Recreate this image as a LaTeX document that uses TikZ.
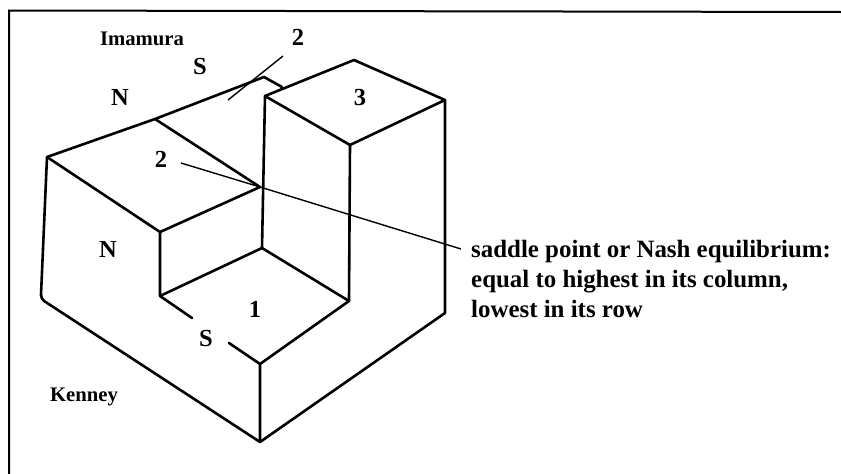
\documentclass[tikz,border=0pt]{standalone}
\usepackage{fontspec}
\setmainfont{Liberation Serif}
\begin{document}
\begin{tikzpicture}[x=1pt,y=-1pt,
  edge/.style={line width=2.6pt,line join=round,line cap=round},
  leader/.style={line width=1.4pt},
  frameline/.style={line width=2pt},
  lab/.style={font=\bfseries\fontsize{24.5}{24.5}\selectfont,inner sep=0pt,anchor=center},
  small/.style={font=\bfseries\fontsize{20.7}{20.7}\selectfont,inner sep=0pt,anchor=center},
  note/.style={font=\bfseries\fontsize{24.9}{30}\selectfont,inner sep=0pt,anchor=base west}]
\useasboundingbox (0,0) rectangle (841,474);
\fill[white] (0,0) rectangle (841,474);
% corners
\coordinate (fa) at (9,474); \coordinate (fb) at (9,10.5); \coordinate (fc) at (841,12);
\coordinate (A) at (47,157); \coordinate (B) at (155,119); \coordinate (C) at (264,77);
\coordinate (Cb) at (282,87);
\coordinate (P) at (265,96); \coordinate (Q) at (354,60); \coordinate (R) at (445,100); \coordinate (T) at (350,145);
\coordinate (M) at (260,187); \coordinate (D) at (160,232); \coordinate (E) at (160,296);
\coordinate (F) at (262,248); \coordinate (G) at (349,301); \coordinate (H) at (260,364);
\coordinate (J) at (41,295); \coordinate (K) at (260,442); \coordinate (L) at (445,313);
\coordinate (S1) at (192,318); \coordinate (S2) at (229,343);
\coordinate (two1) at (181,163); \coordinate (note) at (461,249);
\coordinate (two2a) at (283,56); \coordinate (two2b) at (228,100);
% frame
\draw[frameline] (fa) -- (fb) -- (fc);
% solid
\draw[edge] (J) -- (A) -- (B) -- (C) -- (Cb);
\draw[edge] (A) -- (D) -- (M) -- (B);
\draw[edge] (D) -- (E) -- (F) -- (G) -- (H) -- (K);
\draw[edge] (P) -- (Q) -- (R) -- (T) -- (P) -- (F);
\draw[edge] (T) -- (G);
\draw[edge] (R) -- (L) -- (K);
\draw[edge,rounded corners=4pt] (J) -- (41,299) -- (K);
\draw[edge] (E) -- (S1);
\draw[edge] (S2) -- (H);
% leaders
\draw[leader] (two1) -- (M) -- (note);
\draw[leader] (two2a) -- (two2b);
% labels
\node[small] (imamura) at (142,39) {Imamura};
\node[small] (kenney) at (84,397) {Kenney};
\node[lab] (lN1) at (120,97) {N};
\node[lab] (lS1) at (200,67) {S};
\node[lab] (l21) at (298,37) {2};
\node[lab] (l22) at (161,159) {2};
\node[lab] (l3) at (360,98) {3};
\node[lab] (lN2) at (108,249) {N};
\node[lab] (lS2) at (206,339) {S};
\node[lab] (l1) at (255,309) {1};
\node[note,align=left] (txt) at (471,317) {saddle point or Nash equilibrium:\\equal to highest in its column,\\lowest in its row};
\end{tikzpicture}
\end{document}
